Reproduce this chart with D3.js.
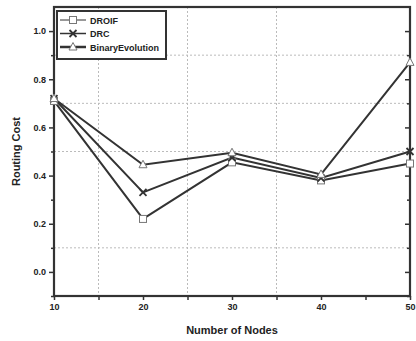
<!DOCTYPE html>
<html>
<head>
<meta charset="utf-8">
<script src="https://cdn.jsdelivr.net/npm/d3@7"></script>
<style>
  html,body{margin:0;padding:0;background:#fff;}
  svg{display:block;}
  text{font-family:"Liberation Sans",Arial,sans-serif;fill:#222;}
</style>
</head>
<body>
<div id="chart"></div>
<script>
// Routing cost vs number of nodes
const nodes = [10, 20, 30, 40, 50];
const droif = [0.71, 0.22, 0.455, 0.38, 0.45];
const drc = [0.72, 0.33, 0.475, 0.39, 0.50];
const binary = [0.72, 0.445, 0.495, 0.405, 0.87];
const seriesNames = ['DROIF', 'DRC', 'BinaryEvolution'];
const yTicks = [0.0, 0.2, 0.4, 0.6, 0.8, 1.0];
const yMinor = [-0.1, 0.1, 0.3, 0.5, 0.7, 0.9];
const xMinor = [15, 25, 35, 45];
const yGrid = [0.1, 0.5, 0.7, 0.9];
const xGrid = [15, 25, 35];

(function(){
  const W = 416, H = 341;
  const m = {top:7, right:6, bottom:45, left:54};
  const w = W - m.left - m.right, h = H - m.top - m.bottom;
  const ink = '#333';

  const svg = d3.select('#chart').append('svg').attr('width', W).attr('height', H);
  const g = svg.append('g').attr('transform', `translate(${m.left},${m.top})`);

  const x = d3.scaleLinear().domain([10, 50]).range([0, w]);
  const y = d3.scaleLinear().domain([-0.1, 1.1]).range([h, 0]);

  // dotted grid
  g.selectAll('.gy').data(yGrid).join('line')
    .attr('x1', 0).attr('x2', w).attr('y1', d => y(d)).attr('y2', d => y(d))
    .attr('stroke', '#bbb').attr('stroke-width', 1).attr('stroke-dasharray', '2,2');
  g.selectAll('.gx').data(xGrid).join('line')
    .attr('y1', 0).attr('y2', h).attr('x1', d => x(d)).attr('x2', d => x(d))
    .attr('stroke', '#bbb').attr('stroke-width', 1).attr('stroke-dasharray', '2,2');

  // axes
  const styleAxis = sel => {
    sel.selectAll('.domain').remove();
    sel.selectAll('line').attr('stroke', ink).attr('stroke-width', 1.5);
    sel.selectAll('text').style('font-family', '"Liberation Sans",Arial,sans-serif')
      .style('font-size', '9px').style('font-weight', 'bold').attr('fill', '#222');
  };
  g.append('g').call(d3.axisLeft(y).tickValues(yTicks).tickFormat(d3.format('.1f')).tickSize(5).tickPadding(3)).call(styleAxis);
  g.append('g').call(d3.axisLeft(y).tickValues(yMinor).tickFormat('').tickSize(3)).call(styleAxis);
  g.append('g').attr('transform', `translate(${w},0)`)
    .call(d3.axisLeft(y).tickValues(yTicks).tickFormat('').tickSize(5)).call(styleAxis);
  g.append('g').attr('transform', `translate(${w},0)`)
    .call(d3.axisLeft(y).tickValues(yMinor).tickFormat('').tickSize(3)).call(styleAxis);
  g.append('g').attr('transform', `translate(0,${h})`)
    .call(d3.axisBottom(x).tickValues(nodes).tickFormat(d3.format('d')).tickSize(4).tickPadding(4)).call(styleAxis);
  g.append('g').attr('transform', `translate(0,${h})`)
    .call(d3.axisBottom(x).tickValues(xMinor).tickFormat('').tickSize(4)).call(styleAxis);

  // frame
  g.append('rect').attr('x', 0).attr('y', 0).attr('width', w).attr('height', h)
    .attr('fill', 'none').attr('stroke', ink).attr('stroke-width', 2.2);

  // axis titles
  svg.append('text').attr('x', m.left + w / 2).attr('y', 334).attr('text-anchor', 'middle')
    .style('font-size', '11px').style('font-weight', 'bold').text('Number of Nodes');
  svg.append('text').attr('transform', `translate(20,${m.top + y(0.5)}) rotate(-90)`).attr('text-anchor', 'middle')
    .style('font-size', '11px').style('font-weight', 'bold').text('Routing Cost');

  // series
  const data = [droif, drc, binary];
  const line = d3.line().x((d, i) => x(nodes[i])).y(d => y(d));
  data.forEach(s => {
    g.append('path').datum(s).attr('d', line).attr('fill', 'none')
      .attr('stroke', ink).attr('stroke-width', 2);
  });

  const marker = (sel, k, cx, cy) => {
    if (k === 0) {
      sel.append('rect').attr('x', cx - 3.5).attr('y', cy - 3.5).attr('width', 7).attr('height', 7)
        .attr('fill', '#fff').attr('stroke', '#777').attr('stroke-width', 1);
    } else if (k === 1) {
      sel.append('path').attr('d', `M${cx-3.5},${cy-3.5}L${cx+3.5},${cy+3.5}M${cx-3.5},${cy+3.5}L${cx+3.5},${cy-3.5}`)
        .attr('stroke', ink).attr('stroke-width', 1.8);
    } else {
      sel.append('path').attr('d', `M${cx},${cy-4.5}L${cx+4},${cy+3}L${cx-4},${cy+3}Z`)
        .attr('fill', '#fff').attr('stroke', '#777').attr('stroke-width', 1);
    }
  };
  data.forEach((s, k) => {
    const mg = g.append('g');
    s.forEach((v, i) => marker(mg, k, x(nodes[i]), y(v)));
  });

  // legend
  const lg = svg.append('g').attr('transform', 'translate(57,11)');
  lg.append('rect').attr('width', 109).attr('height', 48)
    .attr('fill', '#fff').attr('stroke', ink).attr('stroke-width', 2);
  const lw = [1, 1.5, 2.5];
  seriesNames.forEach((n, k) => {
    const cy = 9 + k * 13.5;
    lg.append('line').attr('x1', 3).attr('x2', 29).attr('y1', cy).attr('y2', cy)
      .attr('stroke', ink).attr('stroke-width', lw[k]);
    marker(lg, k, 16, cy);
    lg.append('text').attr('x', 33).attr('y', cy + 3.5)
      .style('font-size', '9px').style('font-weight', 'bold').text(n);
  });
})();
</script>
</body>
</html>
